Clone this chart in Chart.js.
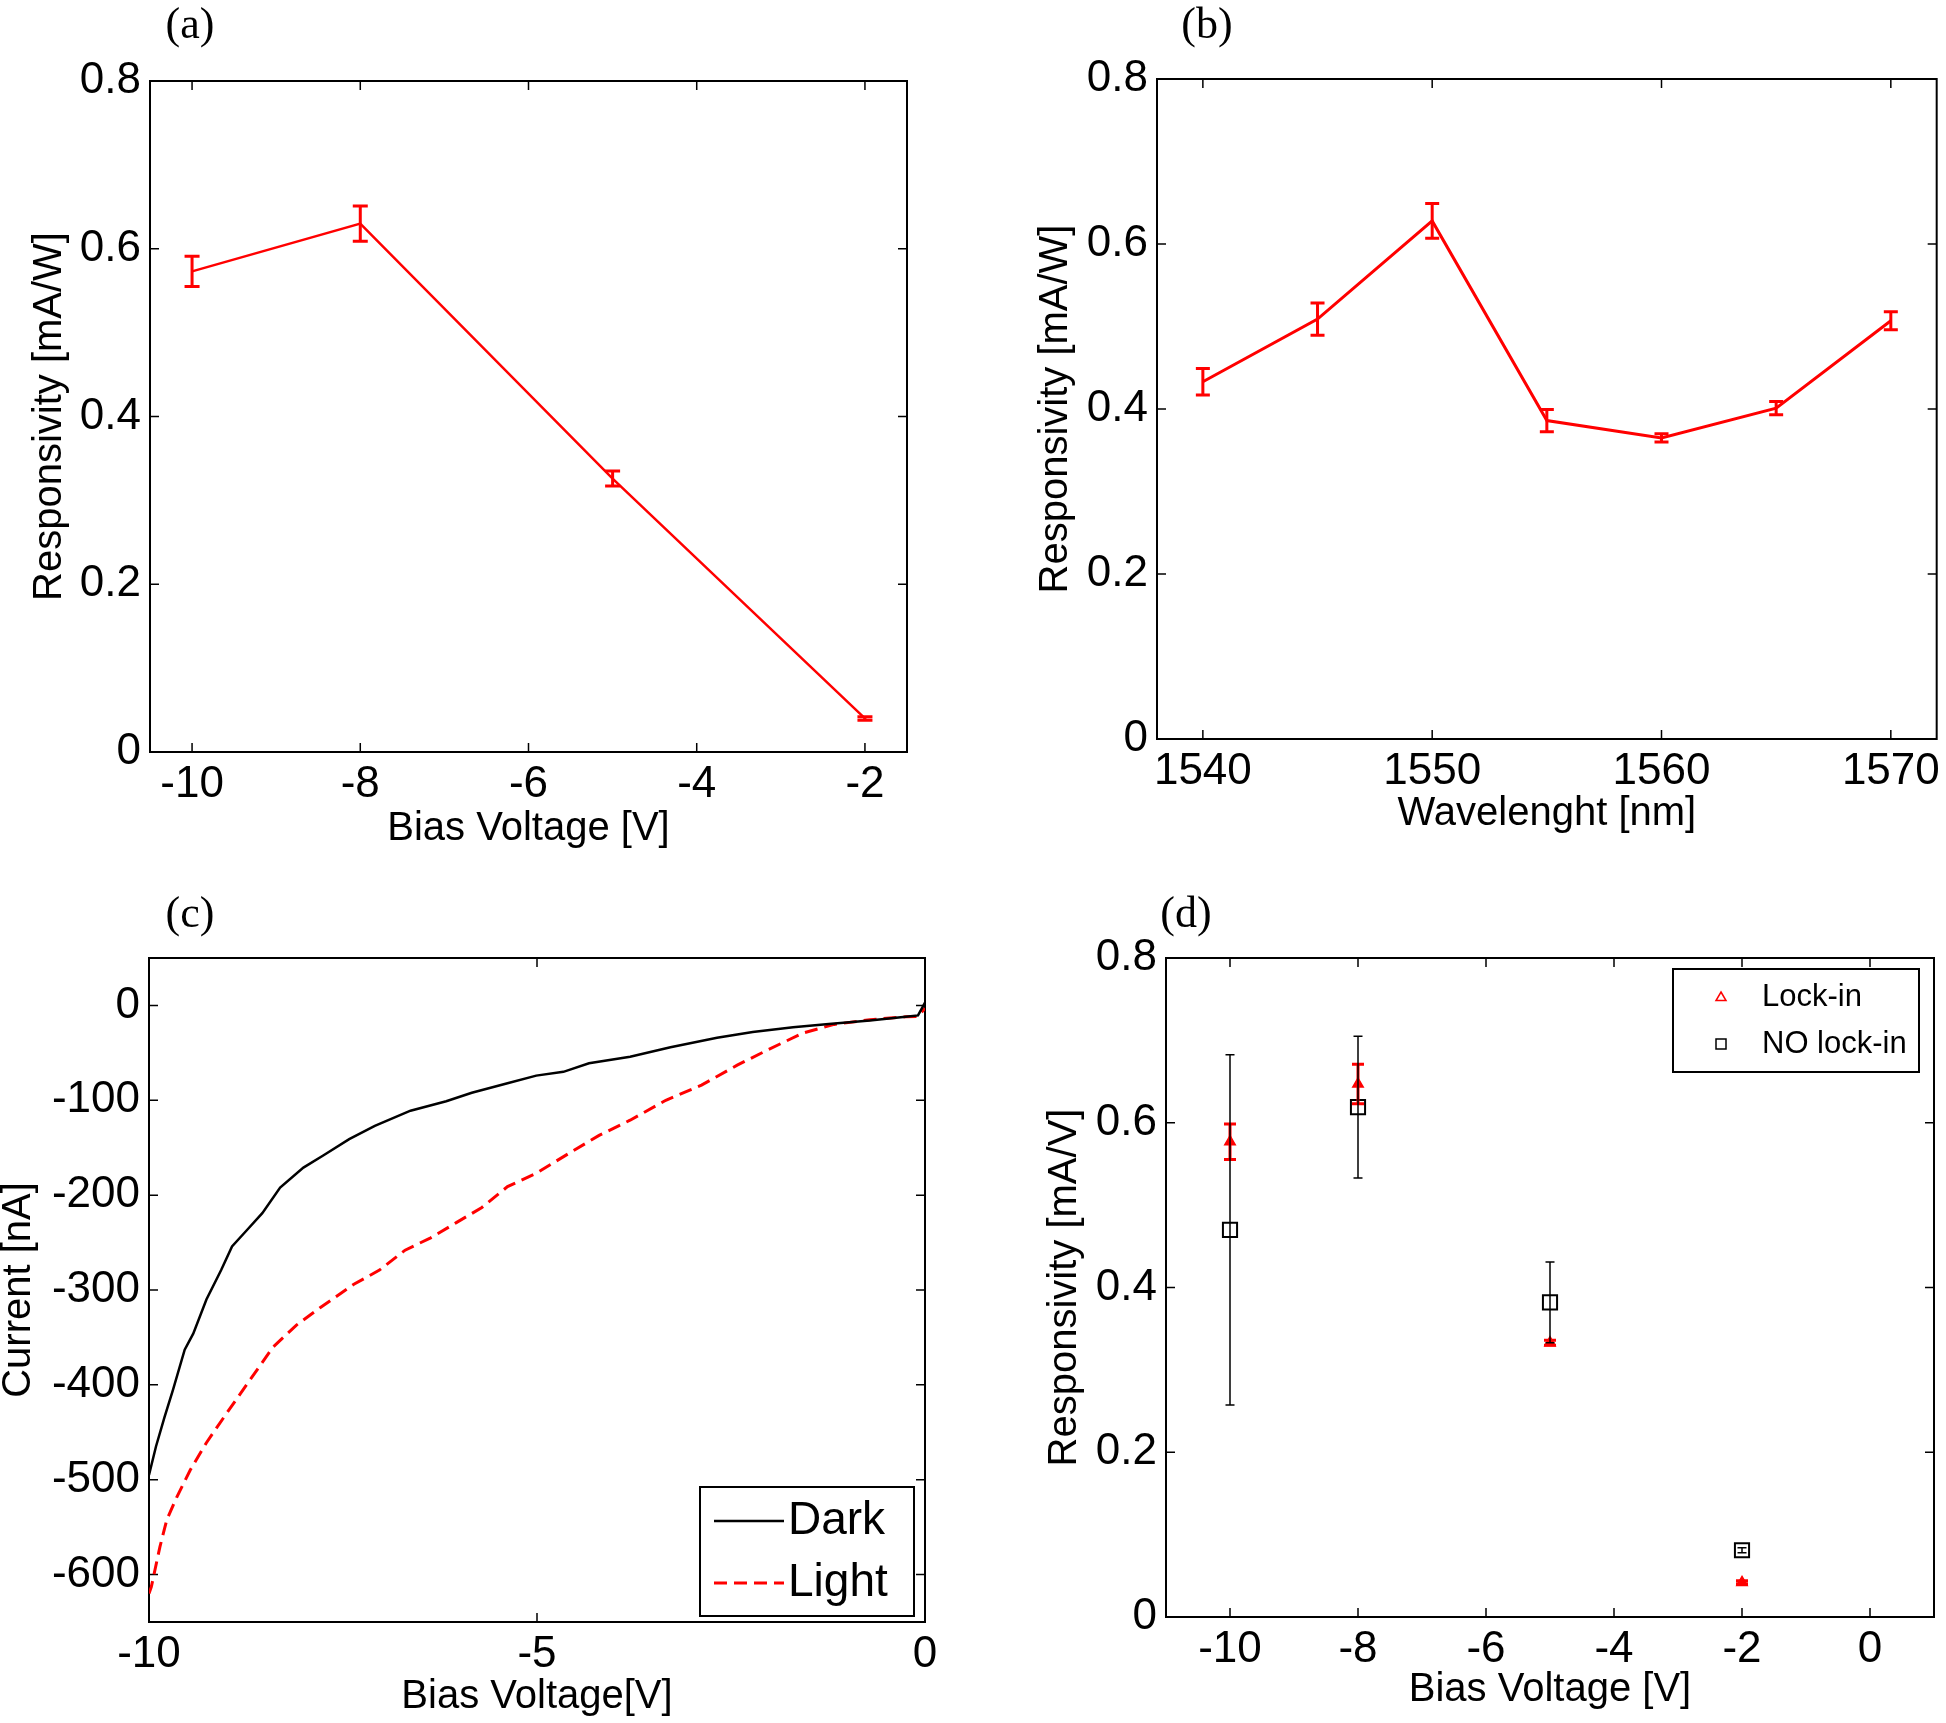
<!DOCTYPE html>
<html>
<head>
<meta charset="utf-8">
<script src="https://cdn.jsdelivr.net/npm/chart.js@4.4.1/dist/chart.umd.min.js"></script>
<style>
html, body { margin: 0; padding: 0; background: #fff; }
#page { position: relative; width: 1946px; height: 1723px; overflow: hidden; }
canvas { position: absolute; }
.tag { position: absolute; font-family: "Liberation Serif", "Times New Roman", serif; font-size: 44px; line-height: 1; transform: translate(-50%, -50%); }
</style>
</head>
<body>
<div id="page">
  <canvas id="chartA" width="940" height="830" style="left:0px;top:40px"></canvas>
  <canvas id="chartB" width="973" height="830" style="left:973px;top:40px"></canvas>
  <canvas id="chartC" width="993" height="853" style="left:-20px;top:870px"></canvas>
  <canvas id="chartD" width="973" height="853" style="left:973px;top:870px"></canvas>
  <div class="tag" style="left:190px;top:24px">(a)</div>
  <div class="tag" style="left:1207px;top:24px">(b)</div>
  <div class="tag" style="left:190px;top:913px">(c)</div>
  <div class="tag" style="left:1186px;top:913px">(d)</div>
</div>
<script>
// (a) responsivity vs bias
let biasA = [-10, -8, -5, -2]
let respA = [0.573, 0.630, 0.326, 0.040]
let errA = [0.018, 0.021, 0.009, 0.002]

// (b) responsivity vs wavelength
let wavelength = [1540, 1545, 1550, 1555, 1560, 1565, 1570]
let respB = [0.433, 0.509, 0.628, 0.386, 0.365, 0.401, 0.507]
let errB = [0.016, 0.0195, 0.021, 0.0135, 0.005, 0.008, 0.011]

// (c) I-V curves
let darkV = [-10, -9.91, -9.80, -9.69, -9.54, -9.43, -9.26, -9.07, -8.93, -8.74, -8.54, -8.31, -8.01, -7.75, -7.42, -7.09, -6.63, -6.17, -5.84, -5.38, -5.01, -4.66, -4.33, -3.80, -3.28, -2.68, -2.22, -1.70, -1.24, -0.71, -0.25, -0.09, 0]
let darkI = [-495, -465, -434, -405, -363, -346, -310, -279, -254, -237, -219, -192, -171, -158, -141, -127, -111, -101, -92, -82, -74, -70, -61, -54, -44, -34, -28, -23, -19.5, -16, -12, -10.5, 3]
let lightV = [-10, -9.97, -9.86, -9.77, -9.64, -9.47, -9.26, -9.00, -8.70, -8.40, -8.10, -7.80, -7.36, -7.03, -6.70, -6.37, -6.04, -5.71, -5.38, -5.01, -4.59, -4.20, -3.80, -3.34, -2.88, -2.42, -2.03, -1.57, -1.17, -0.71, -0.25, -0.09, 0]
let lightI = [-620, -613, -571, -542, -518, -490, -461, -430, -395, -360, -337, -319, -294, -279, -258, -245, -229, -213, -191, -177, -156, -137, -121, -100, -84, -63, -47, -29, -20, -15, -12, -11.5, -3]

// (d) lock-in vs no lock-in
let biasD = [-10, -8, -5, -2]
let lockIn = [0.577, 0.647, 0.333, 0.042]
let lockInErr = [0.0215, 0.024, 0.003, 0.002]
let noLockIn = [0.470, 0.619, 0.382, 0.081]
let noLockInErr = [0.2125, 0.086, 0.049, 0.003]

// tick labels
let ticksA = [-10, -8, -6, -4, -2]
let ticksB = [1540, 1550, 1560, 1570]
let ticksC = [-10, -5, 0]
let ticksD = [-10, -8, -6, -4, -2, 0]
let ticksResp = [0, 0.2, 0.4, 0.6, 0.8]
let ticksCurrent = [-600, -500, -400, -300, -200, -100, 0]

const FONT = "'Liberation Sans', Arial, sans-serif"

function pts(xs, ys) {
   return xs.map((x, i) => ({ x: x, y: ys[i] }))
}

function fmt(v) {
   return String(Math.round(v * 10) / 10)
}

function axes(o) {
   return {
      x: {
         type: 'linear', min: o.xMin, max: o.xMax,
         afterBuildTicks: s => { s.ticks = o.xTicks.map(v => ({ value: v })) },
         afterFit: s => { s.height = o.xHeight },
         grid: { display: false, drawTicks: false },
         border: { display: false },
         ticks: { autoSkip: false, maxRotation: 0, padding: 6, color: '#000', font: { family: FONT, size: 44 }, callback: v => fmt(v) },
         title: { display: true, text: o.xTitle, color: '#000', font: { family: FONT, size: 40, lineHeight: 1.2 }, padding: { top: 0, bottom: o.xTitlePad } }
      },
      y: {
         type: 'linear', min: o.yMin, max: o.yMax,
         afterBuildTicks: s => { s.ticks = o.yTicks.map(v => ({ value: v })) },
         afterFit: s => { s.width = o.yWidth },
         grid: { display: false, drawTicks: false },
         border: { display: false },
         ticks: { autoSkip: false, padding: 9, color: '#000', font: { family: FONT, size: 44 }, callback: v => fmt(v) },
         title: { display: true, text: o.yTitle, color: '#000', font: { family: FONT, size: 40, lineHeight: 1.2 }, padding: { top: o.yTitlePad, bottom: 0 } }
      }
   }
}

// box round the plot with inward ticks on all four sides
const frame = {
   id: 'frame',
   beforeDatasetsDraw(chart) {
      const { ctx, chartArea: a, scales: { x, y } } = chart
      ctx.save()
      ctx.strokeStyle = '#000'
      ctx.lineWidth = 2
      ctx.strokeRect(a.left, a.top, a.right - a.left, a.bottom - a.top)
      ctx.lineWidth = 1.5
      ctx.beginPath()
      const len = 9
      x.ticks.forEach(t => {
         const px = x.getPixelForValue(t.value)
         ctx.moveTo(px, a.bottom); ctx.lineTo(px, a.bottom - len)
         ctx.moveTo(px, a.top); ctx.lineTo(px, a.top + len)
      })
      y.ticks.forEach(t => {
         const py = y.getPixelForValue(t.value)
         ctx.moveTo(a.left, py); ctx.lineTo(a.left + len, py)
         ctx.moveTo(a.right, py); ctx.lineTo(a.right - len, py)
      })
      ctx.stroke()
      ctx.restore()
   }
}

const errorBars = {
   id: 'errorBars',
   afterDatasetsDraw(chart) {
      const { ctx, scales: { x, y } } = chart
      chart.data.datasets.forEach(ds => {
         if (!ds.errors) return
         ctx.save()
         ctx.strokeStyle = ds.errorColor
         ctx.lineWidth = ds.errorWidth
         ds.data.forEach((p, i) => {
            const px = x.getPixelForValue(p.x)
            const top = y.getPixelForValue(p.y + ds.errors[i])
            const bot = y.getPixelForValue(p.y - ds.errors[i])
            const c = ds.capWidth / 2
            ctx.beginPath()
            ctx.moveTo(px, top); ctx.lineTo(px, bot)
            ctx.moveTo(px - c, top); ctx.lineTo(px + c, top)
            ctx.moveTo(px - c, bot); ctx.lineTo(px + c, bot)
            ctx.stroke()
         })
         ctx.restore()
      })
   }
}

// matlab style legend box, drawn inside the plot
const boxLegend = {
   id: 'boxLegend',
   afterDraw(chart, args, o) {
      if (!o.box) return
      const ctx = chart.ctx
      const [l, t, r, b] = o.box
      ctx.save()
      ctx.fillStyle = '#fff'
      ctx.fillRect(l, t, r - l, b - t)
      ctx.strokeStyle = '#000'
      ctx.lineWidth = 2
      ctx.strokeRect(l, t, r - l, b - t)
      chart.data.datasets.forEach((ds, i) => {
         const yy = o.rows[i]
         ctx.strokeStyle = ds.borderColor
         ctx.lineWidth = o.kind === 'line' ? ds.borderWidth : 1.5
         ctx.beginPath()
         if (o.kind === 'line') {
            ctx.setLineDash(ds.borderDash || [])
            ctx.moveTo(o.sample[0], yy); ctx.lineTo(o.sample[1], yy)
         } else if (ds.pointStyle === 'triangle') {
            const s = o.marker
            ctx.moveTo(o.sample[0], yy - s); ctx.lineTo(o.sample[0] + s, yy + s * 0.7); ctx.lineTo(o.sample[0] - s, yy + s * 0.7); ctx.closePath()
         } else {
            const s = o.marker
            ctx.rect(o.sample[0] - s, yy - s, 2 * s, 2 * s)
         }
         ctx.stroke()
         ctx.setLineDash([])
         ctx.fillStyle = '#000'
         ctx.font = o.fontSize + 'px ' + FONT
         ctx.textBaseline = 'middle'
         ctx.textAlign = 'left'
         ctx.fillText(ds.label, o.textX, yy)
      })
      ctx.restore()
   }
}

Chart.defaults.animation = false

let chartA = new Chart(document.getElementById('chartA'), {
   type: 'line',
   data: { datasets: [{ label: 'Responsivity', data: pts(biasA, respA), borderColor: '#ff0000', borderWidth: 2.5, pointRadius: 0, errors: errA, errorColor: '#ff0000', errorWidth: 3, capWidth: 15 }] },
   options: {
      responsive: false, maintainAspectRatio: false,
      layout: { padding: { left: 0, top: 41, right: 33, bottom: 0 } },
      plugins: { legend: { display: false }, tooltip: { enabled: false } },
      scales: axes({ xMin: -10.5, xMax: -1.5, xTicks: ticksA, xHeight: 118, xTitle: 'Bias Voltage [V]', xTitlePad: 17,
                    yMin: 0, yMax: 0.8, yTicks: ticksResp, yWidth: 150, yTitle: 'Responsivity [mA/W]', yTitlePad: 26 })
   },
   plugins: [frame, errorBars]
})

let chartB = new Chart(document.getElementById('chartB'), {
   type: 'line',
   data: { datasets: [{ label: 'Responsivity', data: pts(wavelength, respB), borderColor: '#ff0000', borderWidth: 3, pointRadius: 0, errors: errB, errorColor: '#ff0000', errorWidth: 3, capWidth: 14 }] },
   options: {
      responsive: false, maintainAspectRatio: false,
      layout: { padding: { left: 0, top: 39, right: 4, bottom: 0 } },
      plugins: { legend: { display: false }, tooltip: { enabled: false } },
      scales: axes({ xMin: 1538, xMax: 1572, xTicks: ticksB, xHeight: 131, xTitle: 'Wavelenght [nm]', xTitlePad: 32,
                    yMin: 0, yMax: 0.8, yTicks: ticksResp, yWidth: 184, yTitle: 'Responsivity [mA/W]', yTitlePad: 59 })
   },
   plugins: [frame, errorBars]
})

let chartC = new Chart(document.getElementById('chartC'), {
   type: 'line',
   data: { datasets: [
      { label: 'Dark', data: pts(darkV, darkI), borderColor: '#000000', borderWidth: 2.5, pointRadius: 0 },
      { label: 'Light', data: pts(lightV, lightI), borderColor: '#ff0000', borderWidth: 3, borderDash: [13, 7], pointRadius: 0 }
   ] },
   options: {
      responsive: false, maintainAspectRatio: false,
      layout: { padding: { left: 0, top: 88, right: 48, bottom: 0 } },
      plugins: { legend: { display: false }, tooltip: { enabled: false },
                 boxLegend: { box: [720, 617, 934, 746], rows: [651, 713], sample: [734, 804], textX: 808, fontSize: 46, kind: 'line' } },
      scales: axes({ xMin: -10, xMax: 0, xTicks: ticksC, xHeight: 101, xTitle: 'Bias Voltage[V]', xTitlePad: 2,
                    yMin: -650, yMax: 50, yTicks: ticksCurrent, yWidth: 169, yTitle: 'Current [nA]', yTitlePad: 15 })
   },
   plugins: [frame, boxLegend]
})

let chartD = new Chart(document.getElementById('chartD'), {
   type: 'scatter',
   data: { datasets: [
      { label: 'Lock-in', data: pts(biasD, lockIn), pointStyle: 'triangle', pointRadius: 6, borderColor: '#ff0000', backgroundColor: '#ff0000', borderWidth: 1.5,
        errors: lockInErr, errorColor: '#ff0000', errorWidth: 3, capWidth: 12 },
      { label: 'NO lock-in', data: pts(biasD, noLockIn), pointStyle: 'rect', pointRadius: 10, borderColor: '#000000', backgroundColor: 'rgba(0,0,0,0)', borderWidth: 2,
        errors: noLockInErr, errorColor: '#000000', errorWidth: 1.5, capWidth: 9 }
   ] },
   options: {
      responsive: false, maintainAspectRatio: false,
      layout: { padding: { left: 0, top: 88, right: 12, bottom: 0 } },
      plugins: { legend: { display: false }, tooltip: { enabled: false },
                 boxLegend: { box: [700, 99, 946, 202], rows: [127, 174], sample: [748], marker: 5, textX: 789, fontSize: 31, kind: 'marker' } },
      scales: axes({ xMin: -11, xMax: 1, xTicks: ticksD, xHeight: 106, xTitle: 'Bias Voltage [V]', xTitlePad: 9,
                    yMin: 0, yMax: 0.8, yTicks: ticksResp, yWidth: 193, yTitle: 'Responsivity [mA/V]', yTitlePad: 68 })
   },
   plugins: [frame, errorBars, boxLegend]
})
</script>
</body>
</html>
